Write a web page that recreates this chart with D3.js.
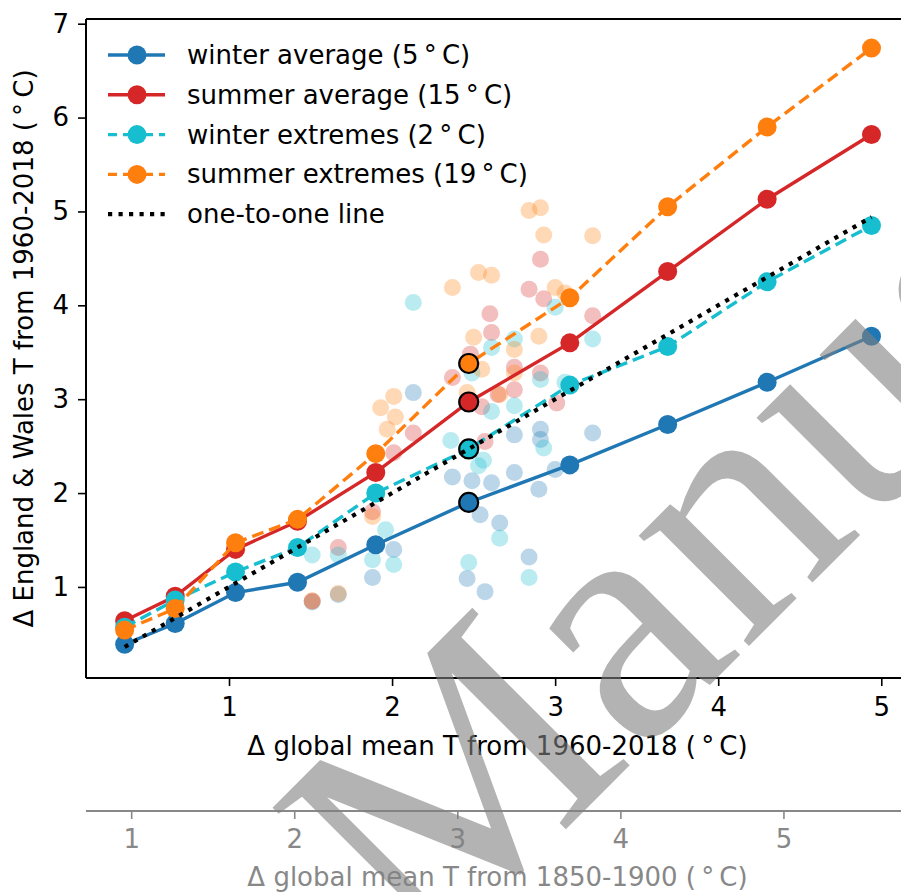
<!DOCTYPE html>
<html><head><meta charset="utf-8">
<script src="https://cdn.jsdelivr.net/npm/d3@7"></script>
<style>body{margin:0;background:#fff}svg{display:block}</style>
</head><body>
<svg id="c" width="901" height="892"></svg>
<script>
// ---- data ----
const xLevels   = [0.36, 0.67, 1.04, 1.42, 1.90, 2.47, 3.09, 3.69, 4.30, 4.94];
const winterAvg = [0.39, 0.61, 0.94, 1.05, 1.45, 1.90, 2.30, 2.73, 3.18, 3.67];
const summerAvg = [0.64, 0.90, 1.40, 1.70, 2.22, 2.97, 3.60, 4.36, 5.13, 5.82];
const winterExt = [0.57, 0.86, 1.16, 1.42, 2.00, 2.47, 3.15, 3.56, 4.25, 4.85];
const summerExt = [0.54, 0.77, 1.47, 1.72, 2.42, 3.38, 4.08, 5.05, 5.90, 6.74];
const oneToOneX = [0.36, 4.94];
const highlightIndex = 5;

const winterAvgScatter = [[1.51,0.84],[1.67,0.92],[1.88,1.10],[2.01,1.40],[2.13,3.07],[2.37,2.17],[2.49,2.13],[2.61,2.11],[2.75,2.22],[3.00,2.25],[2.90,2.04],[2.91,2.68],[2.91,2.57],[2.75,2.62],[3.23,2.64],[2.54,1.77],[2.66,1.68],[2.84,1.32],[2.46,1.09],[2.57,0.95]];
const summerAvgScatter = [[1.51,0.85],[1.67,1.42],[1.88,1.80],[2.01,2.43],[2.13,2.64],[2.37,3.23],[2.48,3.48],[2.55,2.92],[2.57,2.55],[2.60,3.91],[2.61,3.71],[2.75,3.34],[2.75,3.10],[2.65,3.05],[2.84,4.17],[2.91,4.49],[2.93,4.07],[2.91,3.28],[3.01,2.96],[3.23,3.89]];
const winterExtScatter = [[1.51,1.34],[1.67,1.34],[1.88,1.29],[1.96,1.61],[2.01,1.24],[2.13,4.03],[2.36,2.56],[2.56,2.35],[2.53,2.29],[2.61,2.87],[2.75,2.93],[2.61,3.55],[2.75,3.64],[3.00,3.98],[2.91,3.21],[3.06,3.18],[3.23,3.64],[2.93,2.48],[2.66,1.52],[2.47,1.26],[2.84,1.10],[2.49,3.28]];
const summerExtScatter = [[1.51,0.85],[1.67,0.93],[1.88,1.75],[1.93,2.91],[2.01,3.03],[2.02,2.81],[1.97,2.68],[2.37,4.19],[2.53,4.35],[2.61,4.32],[2.84,5.01],[2.91,5.04],[2.93,4.75],[3.23,4.74],[3.00,4.19],[3.06,4.13],[2.50,3.66],[2.90,3.67],[2.75,3.53],[2.55,3.32],[2.75,3.28],[2.46,3.07],[2.66,3.05]];

const xTicks  = [1, 2, 3, 4, 5];
const yTicks  = [1, 2, 3, 4, 5, 6, 7];
const x2Ticks = [1, 2, 3, 4, 5];
const baselineOffset = 0.6; // 1850-1900 vs 1960-2018

const seriesNames = ["winter average (5\u2009°\u2009C)", "summer average (15\u2009°\u2009C)", "winter extremes (2\u2009°\u2009C)", "summer extremes (19\u2009°\u2009C)", "one-to-one line"];
const xTitle  = "Δ global mean T from 1960-2018 (\u2009°\u2009C)";
const x2Title = "Δ global mean T from 1850-1900 (\u2009°\u2009C)";
const yTitle  = "Δ England & Wales T from 1960-2018 (\u2009°\u2009C)";
const watermark = "Manuscript";

// ---- layout ----
const svg = d3.select("#c");
const L = 86, R = 909, T = 19, B = 678;
const FONT = "DejaVu Sans, sans-serif", FS = 26;
const x = d3.scaleLinear().domain([0.123, 5.17]).range([L, R]);
const y = d3.scaleLinear().domain([0.03, 7.05]).range([B, T]);
const x2 = d3.scaleLinear().domain([0.123 + baselineOffset, 5.17 + baselineOffset]).range([L, R]);

const C = {blue:"#1f77b4", red:"#d62728", cyan:"#17becf", orange:"#ff7f0e"};
svg.append("rect").attr("width",901).attr("height",892).attr("fill","#fff");

const plot = svg.append("g");
// scatter
const scat = [[winterAvgScatter,C.blue],[summerAvgScatter,C.red],[winterExtScatter,C.cyan],[summerExtScatter,C.orange]];
scat.forEach(([d,c]) => {
  plot.selectAll(null).data(d).enter().append("circle")
    .attr("cx", p => x(p[0])).attr("cy", p => y(p[1])).attr("r", 8.5)
    .attr("fill", c).attr("fill-opacity", 0.3);
});
// lines
const series = [
  {v: winterAvg, c: C.blue, dash: null},
  {v: summerAvg, c: C.red, dash: null},
  {v: winterExt, c: C.cyan, dash: "12,6"},
  {v: summerExt, c: C.orange, dash: "12,6"}
];
const line = d3.line().x(d => x(d[0])).y(d => y(d[1]));
series.forEach(s => {
  const pts = xLevels.map((xv,i) => [xv, s.v[i]]);
  plot.append("path").attr("d", line(pts)).attr("fill","none").attr("stroke", s.c)
    .attr("stroke-width", 3.4).attr("stroke-dasharray", s.dash);
  plot.selectAll(null).data(pts).enter().append("circle")
    .attr("cx", d => x(d[0])).attr("cy", d => y(d[1])).attr("r", 9.5)
    .attr("fill", s.c)
    .attr("stroke", (d,i) => i === highlightIndex ? "#000" : "none")
    .attr("stroke-width", 2.2);
});
plot.append("path").attr("d", line(oneToOneX.map(v => [v, v]))).attr("fill","none")
  .attr("stroke","#000").attr("stroke-width",4.2).attr("stroke-dasharray","4.2,6.3");

// axes frame
[[L,L,T,B],[L,R,T,T],[L,R,B,B],[R,R,T,B]].forEach(([x1,x2_,y1,y2]) =>
  svg.append("line").attr("x1",x1).attr("x2",x2_).attr("y1",y1).attr("y2",y2).attr("stroke","#000").attr("stroke-width",2));

const xAxis = svg.append("g").attr("transform",`translate(0,${B})`)
  .call(d3.axisBottom(x).tickValues(xTicks).tickFormat(d3.format("d")).tickSize(8).tickPadding(12));
const yAxis = svg.append("g").attr("transform",`translate(${L},0)`)
  .call(d3.axisLeft(y).tickValues(yTicks).tickFormat(d3.format("d")).tickSize(8).tickPadding(9));
[xAxis,yAxis].forEach(a => {
  a.select(".domain").remove();
  a.selectAll("line").attr("stroke","#000").attr("stroke-width",1.6);
  a.selectAll("text").attr("font-family",FONT).attr("font-size",FS).attr("fill","#000");
});

const x2Axis = svg.append("g").attr("transform","translate(0,811)")
  .call(d3.axisBottom(x2).tickValues(x2Ticks).tickFormat(d3.format("d")).tickSize(8).tickPadding(11));
x2Axis.select(".domain").attr("stroke","#888").attr("stroke-width",2).attr("d",`M${L},0H${R}`);
x2Axis.selectAll("line").attr("stroke","#888").attr("stroke-width",1.6);
x2Axis.selectAll("text").attr("font-family",FONT).attr("font-size",FS).attr("fill","#888");

svg.append("text").attr("x",(L+R)/2).attr("y",755).attr("text-anchor","middle")
  .attr("font-family",FONT).attr("font-size",FS).attr("fill","#000").text(xTitle);
svg.append("text").attr("x",(L+R)/2).attr("y",886).attr("text-anchor","middle")
  .attr("font-family",FONT).attr("font-size",FS).attr("fill","#888").text(x2Title);
svg.append("text").attr("transform",`translate(33,${(T+B)/2}) rotate(-90)`).attr("text-anchor","middle")
  .attr("font-family",FONT).attr("font-size",FS).attr("fill","#000").text(yTitle);

// legend
const leg = svg.append("g");
const legItems = [
  {c:C.blue, dash:null, marker:true},
  {c:C.red, dash:null, marker:true},
  {c:C.cyan, dash:"12,6", marker:true},
  {c:C.orange, dash:"12,6", marker:true},
  {c:"#000", dash:"4.2,6.3", marker:false}
];
legItems.forEach((it,i) => {
  const yy = 55 + i*39.8;
  leg.append("line").attr("x1",108).attr("x2",165).attr("y1",yy).attr("y2",yy)
    .attr("stroke",it.c).attr("stroke-width", it.marker ? 3.4 : 4.2).attr("stroke-dasharray",it.dash)
    .attr("stroke-dashoffset", it.dash && it.marker ? 3 : 0);
  if (it.marker) leg.append("circle").attr("cx",137).attr("cy",yy).attr("r",9.5).attr("fill",it.c);
  leg.append("text").attr("x",187).attr("y",yy+9).attr("font-family",FONT).attr("font-size",FS)
    .attr("fill","#000").text(seriesNames[i]);
});

// watermark
svg.append("text").attr("transform","translate(423,972) rotate(-45)")
  .attr("font-family","Liberation Serif, serif").attr("font-size",340)
  .attr("fill","#808080").attr("fill-opacity",0.6).text(watermark);
</script>
</body></html>
